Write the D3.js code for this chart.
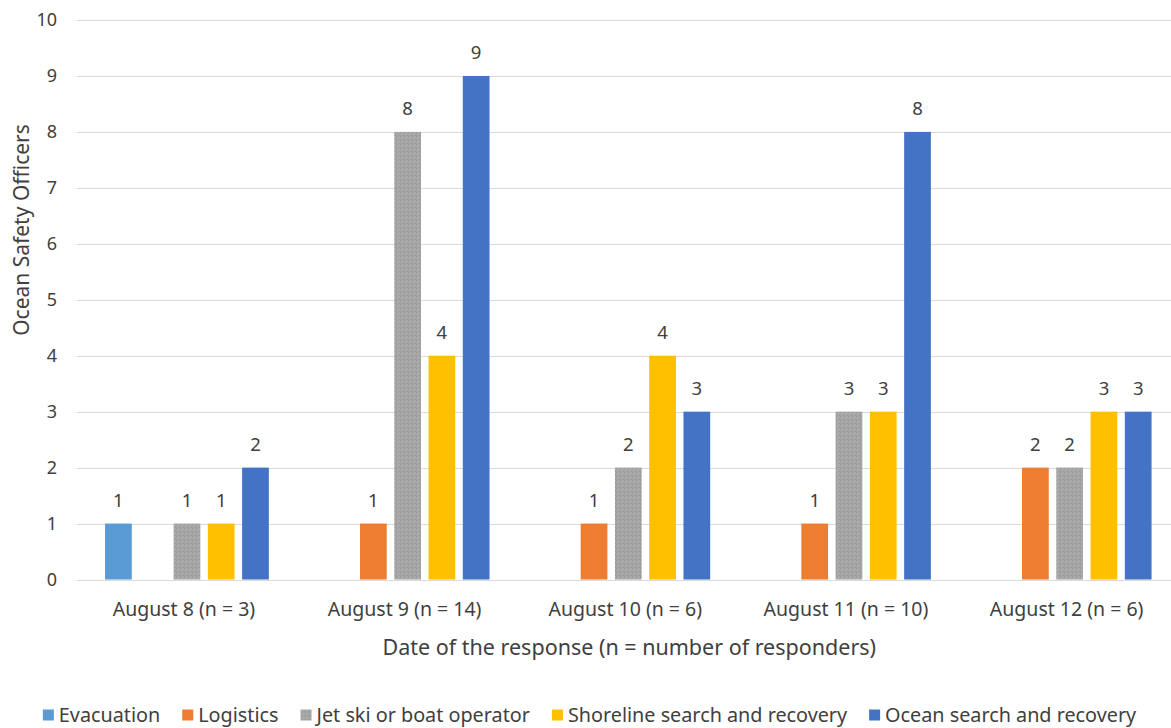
<!DOCTYPE html>
<html>
<head>
<meta charset="utf-8">
<script src="https://cdn.jsdelivr.net/npm/d3@7"></script>
<style>
  html, body { margin: 0; padding: 0; background: #fff; }
  svg text { font-family: "Noto Sans", Lato, sans-serif; fill: #404040; }
</style>
</head>
<body>
<svg id="chart" width="1171" height="728"></svg>
<script>
// Response dates (x categories)
const dates = ["August 8 (n = 3)", "August 9 (n = 14)", "August 10 (n = 6)", "August 11 (n = 10)", "August 12 (n = 6)"];
// Tasks carried out (series)
const tasks = ["Evacuation", "Logistics", "Jet ski or boat operator", "Shoreline search and recovery", "Ocean search and recovery"];
// Number of officers per task, one value per date
const evacuation = [1, 0, 0, 0, 0];
const logistics = [0, 1, 1, 1, 2];
const jetSki = [1, 8, 2, 3, 2];
const shoreline = [1, 4, 4, 3, 3];
const oceanSearch = [2, 9, 3, 8, 3];
const yTicks = [0, 1, 2, 3, 4, 5, 6, 7, 8, 9, 10];
const colors = ["#5B9BD5", "#ED7D31", "#A5A5A5", "#FFC000", "#4472C4"];

const seriesValues = [evacuation, logistics, jetSki, shoreline, oceanSearch];

const svg = d3.select("#chart");
const plotLeft = 76.6, plotRight = 1180, plotTop = 20, plotBottom = 579.5;

const x0 = d3.scaleBand().domain(dates).range([plotLeft, plotRight]).paddingInner(0).paddingOuter(0);
const x1 = d3.scaleBand().domain(tasks).range([0, x0.bandwidth()])
  .paddingInner(0.22).paddingOuter(0.83);
const y = d3.scaleLinear().domain([0, 10]).range([plotBottom, plotTop]);

// grainy fill for the grey series
const defs = svg.append("defs");
const pat = defs.append("pattern").attr("id", "greyTex")
  .attr("patternUnits", "userSpaceOnUse").attr("width", 4).attr("height", 4);
pat.append("rect").attr("width", 4).attr("height", 4).attr("fill", "#A5A5A5");
[[0,0,"#999"],[2,1,"#b2b2b2"],[1,2,"#b0b0b0"],[3,3,"#9a9a9a"],[3,0,"#adadad"],[0,3,"#9e9e9e"]]
  .forEach(([px, py, c]) => pat.append("rect").attr("x", px).attr("y", py)
    .attr("width", 1).attr("height", 1).attr("fill", c));

// horizontal gridlines
svg.append("g").selectAll("line").data(yTicks).join("line")
  .attr("x1", plotLeft).attr("x2", 1171)
  .attr("y1", d => Math.round(y(d)) + 0.5).attr("y2", d => Math.round(y(d)) + 0.5)
  .attr("stroke", "#d9d9d9").attr("stroke-width", 1.2);

// y tick labels
svg.append("g").selectAll("text").data(yTicks).join("text")
  .attr("x", 57).attr("y", d => y(d)).attr("dy", "0.36em")
  .attr("text-anchor", "end").style("font-size", "18px")
  .text(d => d);

// bars and value labels
const rows = [];
tasks.forEach((t, si) => dates.forEach((d, di) => {
  const v = seriesValues[si][di];
  if (v > 0) rows.push({ task: t, date: d, value: v, si });
}));

svg.append("g").selectAll("rect").data(rows).join("rect")
  .attr("x", d => x0(d.date) + x1(d.task))
  .attr("y", d => y(d.value))
  .attr("width", x1.bandwidth())
  .attr("height", d => y(0) - y(d.value))
  .attr("fill", d => d.si === 2 ? "url(#greyTex)" : colors[d.si]);

svg.append("g").selectAll("text").data(rows).join("text")
  .attr("x", d => x0(d.date) + x1(d.task) + x1.bandwidth() / 2)
  .attr("y", d => y(d.value) - 16.5)
  .attr("text-anchor", "middle").style("font-size", "18.5px")
  .text(d => d.value);

// category labels
svg.append("g").selectAll("text").data(dates).join("text")
  .attr("x", d => x0(d) + x0.bandwidth() / 2 - 3)
  .attr("y", 616)
  .attr("text-anchor", "middle").style("font-size", "19.5px")
  .text(d => d);

// axis titles
svg.append("text")
  .attr("x", (plotLeft + plotRight) / 2 + 1).attr("y", 655)
  .attr("text-anchor", "middle").style("font-size", "21.5px")
  .text("Date of the response (n = number of responders)");

svg.append("text")
  .attr("transform", "translate(29,230) rotate(-90)")
  .attr("text-anchor", "middle").style("font-size", "21px")
  .text("Ocean Safety Officers");

// legend, centred under the chart
const legend = svg.append("g");
const items = legend.selectAll("g").data(tasks).join("g");
items.append("rect").attr("width", 11).attr("height", 11).attr("y", 709.5)
  .attr("fill", (d, i) => i === 2 ? "url(#greyTex)" : colors[i]);
items.append("text").attr("x", 16).attr("y", 722).style("font-size", "19.8px").text(d => d);
const gap = 22;
let cursor = 0;
const offsets = [];
items.each(function () {
  offsets.push(cursor);
  cursor += 16 + this.querySelector("text").getComputedTextLength() + gap;
});
const total = cursor - gap;
const start = 589.5 - total / 2;
items.attr("transform", (d, i) => `translate(${start + offsets[i]},0)`);
</script>
</body>
</html>
